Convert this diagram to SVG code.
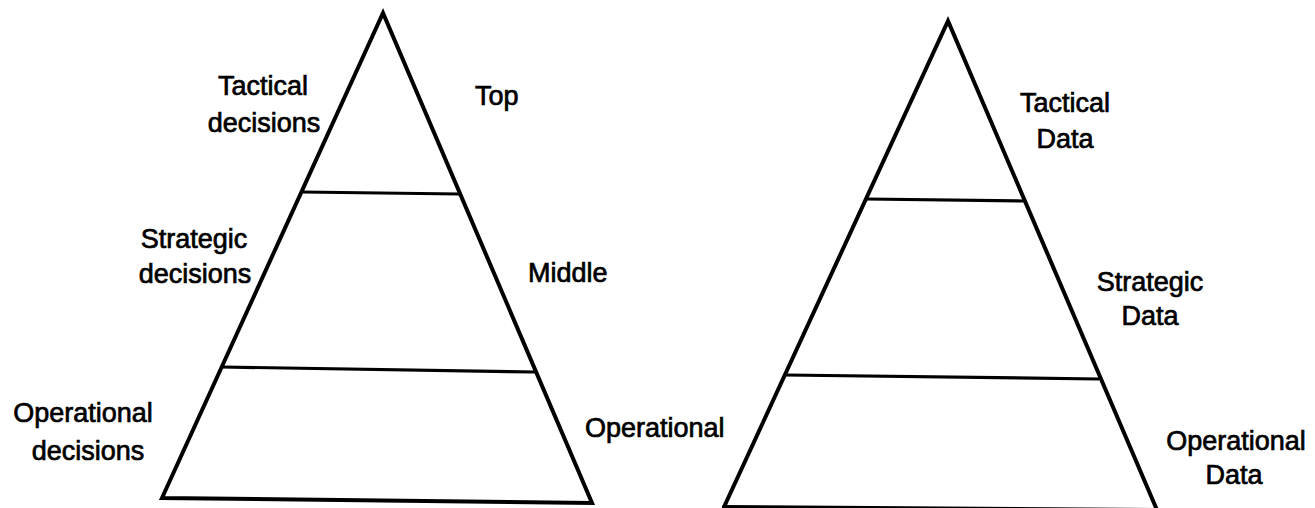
<svg xmlns="http://www.w3.org/2000/svg" width="1315" height="508" viewBox="0 0 1315 508">
<style>
.edge{fill:none;stroke:#000;stroke-width:4;stroke-linejoin:miter;stroke-linecap:round}
.band{fill:none;stroke:#000;stroke-width:3.2}
.lbl{font-family:"Liberation Sans",Arial,sans-serif;font-size:27px;fill:#000;stroke:#000;stroke-width:0.7}
.mid{text-anchor:middle}
</style>
<rect width="1315" height="508" fill="#fff"/>
<g id="connectors">
<path class="edge" d="M162,498 L383,13 L592,503 Z"/>
<line class="band" x1="302" y1="192" x2="459" y2="194"/>
<line class="band" x1="222" y1="367" x2="535" y2="372"/>
<path class="edge" d="M724,507 L948,21 L1157,510"/>
<line class="edge" x1="724" y1="507" x2="1157" y2="510"/>
<line class="band" x1="866" y1="199" x2="1024" y2="201"/>
<line class="band" x1="785" y1="375" x2="1099" y2="379"/>
</g>
<g id="left-tactical"><text class="lbl mid" x="263" y="95">Tactical</text><text class="lbl mid" x="264" y="132">decisions</text></g>
<g id="left-strategic"><text class="lbl mid" x="194" y="248">Strategic</text><text class="lbl mid" x="195" y="283">decisions</text></g>
<g id="left-operational"><text class="lbl mid" x="83" y="422">Operational</text><text class="lbl mid" x="88" y="460">decisions</text></g>
<g id="level-top"><text class="lbl" x="475" y="105">Top</text></g>
<g id="level-middle"><text class="lbl" x="528" y="282">Middle</text></g>
<g id="level-operational"><text class="lbl" x="585" y="437">Operational</text></g>
<g id="right-tactical"><text class="lbl mid" x="1065" y="112">Tactical</text><text class="lbl mid" x="1065" y="148">Data</text></g>
<g id="right-strategic"><text class="lbl mid" x="1150" y="291">Strategic</text><text class="lbl mid" x="1150" y="325">Data</text></g>
<g id="right-operational"><text class="lbl mid" x="1236" y="450">Operational</text><text class="lbl mid" x="1234" y="484">Data</text></g>
</svg>
